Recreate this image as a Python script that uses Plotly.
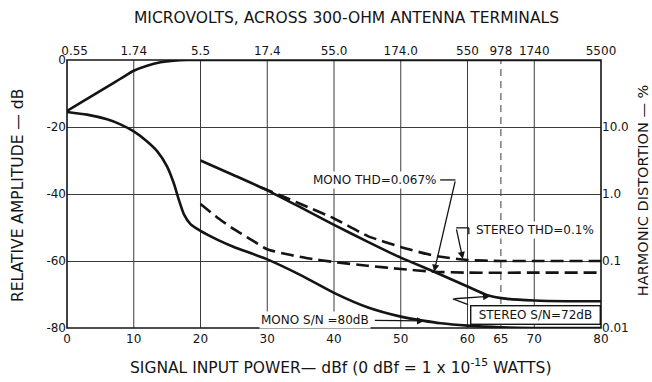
import plotly.graph_objects as go

# ---- Curve data (x = signal input power, dBf) ----
# Audio output level, dB
audio_x = [0, 2, 4, 6, 8, 10, 12, 14, 16, 18, 20, 30, 40, 50, 60, 70, 80]
audio_y = [-15.2, -12.8, -10.4, -8.0, -5.6, -3.2, -1.7, -0.7, -0.2, 0, 0, 0, 0, 0, 0, 0, 0]

# Mono noise level, dB  (S/N = 80 dB)
mono_sn_x = [0, 3, 6, 8, 10, 12, 13.5, 15, 16, 16.8, 17.5, 18.5, 20, 22.5, 25, 30,
             35, 40, 45, 50, 53.3, 56, 60, 65, 70, 80]
mono_sn_y = [-15.5, -16.3, -17.7, -19.2, -21.3, -24.3, -27.2, -31.8, -36.8, -42, -46,
             -49, -51, -53.6, -55.8, -59.5, -64.2, -69.5, -73.8, -76.6, -77.8, -78.6,
             -79.3, -79.8, -80, -80]

# Stereo noise level, dB  (S/N = 72 dB)
stereo_sn_x = [20, 25, 30, 35, 40, 45, 50, 55, 60, 63, 66, 70, 75, 80]
stereo_sn_y = [-30, -34.4, -38.9, -44, -49.2, -54.2, -59, -63.2, -67.6, -70.2, -71.3,
               -71.8, -72, -72]

# Stereo harmonic distortion, %  (THD = 0.1 %)
stereo_thd_x = [29, 32, 35, 40, 45, 50, 55, 60, 65, 70, 80]
stereo_thd_pct = [1.259, 0.955, 0.708, 0.4315, 0.237, 0.162, 0.120, 0.1035, 0.1, 0.1, 0.1]

# Mono harmonic distortion, %  (THD = 0.067 %)
mono_thd_x = [20, 22.5, 25, 27.5, 30, 33, 36, 40, 45, 50, 55, 60, 70, 80]
mono_thd_pct = [0.708, 0.447, 0.299, 0.211, 0.150, 0.126, 0.110, 0.0966, 0.0851,
                0.0759, 0.0692, 0.067, 0.067, 0.067]

# ---- Axis ticks ----
bottom_ticks = [0, 10, 20, 30, 40, 50, 60, 65, 70, 80]
bottom_labels = ["0", "10", "20", "30", "40", "50", "60", "65", "70", "80"]
top_ticks = [0, 10, 20, 30, 40, 50, 60, 65, 70, 80]
top_labels = ["\u00a0\u00a0\u00a0\u00a00.55", "1.74", "5.5", "17.4", "55.0", "174.0",
              "550", "978", "1740", "5500"]
left_ticks = [0, -20, -40, -60, -80]
left_labels = ["0", "-20", "-40", "-60", "-80"]
right_ticks = [0.01, 0.1, 1, 10]
right_labels = ["0.01", "0.1", "1.0", "10.0"]

grid_x = [10, 20, 30, 40, 50, 60, 70]
dashed_grid_x = [65]

FONT = "DejaVu Sans"
INK = "#141414"
GRID = "#3c3c3c"
CURVE_W = 2.6
DASH = "13px,6px"

fig = go.Figure()

# the audio curve is tied to the top (microvolt) axis, which shares the dBf scale
fig.add_trace(go.Scatter(x=audio_x, y=audio_y, mode="lines", xaxis="x2",
                         line=dict(color=INK, width=CURVE_W, shape="spline", smoothing=0.8),
                         hoverinfo="skip"))
fig.add_trace(go.Scatter(x=mono_sn_x, y=mono_sn_y, mode="lines",
                         line=dict(color=INK, width=CURVE_W, shape="spline", smoothing=0.6),
                         hoverinfo="skip"))
fig.add_trace(go.Scatter(x=stereo_sn_x, y=stereo_sn_y, mode="lines",
                         line=dict(color=INK, width=CURVE_W, shape="spline", smoothing=0.6),
                         hoverinfo="skip"))
fig.add_trace(go.Scatter(x=stereo_thd_x, y=stereo_thd_pct, mode="lines", yaxis="y2",
                         line=dict(color=INK, width=CURVE_W, dash=DASH, shape="spline",
                                   smoothing=0.6),
                         hoverinfo="skip"))
fig.add_trace(go.Scatter(x=mono_thd_x, y=mono_thd_pct, mode="lines", yaxis="y2",
                         line=dict(color=INK, width=CURVE_W, dash=DASH, shape="spline",
                                   smoothing=0.6),
                         hoverinfo="skip"))

shapes = []
for gx in grid_x:
    shapes.append(dict(type="line", xref="x", yref="paper", x0=gx, x1=gx, y0=0, y1=1,
                       line=dict(color=GRID, width=1), layer="below"))
for gx in dashed_grid_x:
    shapes.append(dict(type="line", xref="x", yref="paper", x0=gx, x1=gx, y0=0, y1=1,
                       line=dict(color=GRID, width=1, dash="7px,5px"), layer="below"))
# plot frame
shapes.append(dict(type="rect", xref="paper", yref="paper", x0=0, x1=1, y0=0, y1=1,
                   line=dict(color=INK, width=1.6)))
# leader segments for the callouts
leader = dict(color=INK, width=1.3)
shapes += [
    dict(type="line", xref="x", yref="y", x0=55.9, x1=58.2, y0=-35.8, y1=-35.8, line=leader),
    dict(type="line", xref="x", yref="y", x0=58.3, x1=60.2, y0=-50.1, y1=-50.1, line=leader),
    dict(type="line", xref="x", yref="y", x0=60.2, x1=60.2, y0=-50.1, y1=-52.0, line=leader),
    dict(type="line", xref="x", yref="y", x0=57.8, x1=60.1, y0=-71.3, y1=-73.0, line=leader),
]

lbl = dict(family=FONT, size=12, color=INK)
arrow = dict(xref="x", yref="y", axref="x", ayref="y", showarrow=True, arrowhead=2,
             arrowsize=1.1, arrowwidth=1.3, arrowcolor=INK)
title_kw = dict(xref="paper", yref="paper", showarrow=False, xanchor="center",
                yanchor="middle")
annotations = [
    # callout labels
    dict(text="MONO THD=0.067%", x=46.0, y=-35.8, xref="x", yref="y", showarrow=False,
         font=lbl, bgcolor="white", borderpad=1),
    dict(text="STEREO THD=0.1%", x=70.1, y=-50.7, xref="x", yref="y", showarrow=False,
         font=lbl, bgcolor="white", borderpad=1),
    dict(text="STEREO S/N=72dB", x=80, y=-73.0, xref="x", yref="y", xanchor="right",
         yanchor="top", showarrow=False, font=lbl, bgcolor="white", bordercolor=INK,
         borderwidth=1.4, borderpad=2, width=124, height=13),
    dict(text="MONO S/N =80dB", x=37.2, y=-77.6, xref="x", yref="y", showarrow=False,
         font=lbl, bgcolor="white", borderpad=1),
    # callout arrows
    dict(text="", x=55.0, y=-63.2, ax=58.2, ay=-35.8, **arrow),
    dict(text="", x=59.3, y=-59.4, ax=58.3, ay=-50.1, **arrow),
    dict(text="", x=63.4, y=-70.5, ax=57.8, ay=-71.3, **arrow),
    dict(text="", x=53.5, y=-77.9, ax=45.9, ay=-77.7, **arrow),
    # axis titles
    dict(text="MICROVOLTS, ACROSS 300-OHM ANTENNA TERMINALS", x=0.524, y=1.157,
         font=dict(family=FONT, size=15.5, color=INK), **title_kw),
    dict(text="SIGNAL INPUT POWER\u2014 dBf (0 dBf = 1 x 10<sup>-15</sup> WATTS)",
         x=0.513, y=-0.142, font=dict(family=FONT, size=15.5, color=INK), **title_kw),
    dict(text="RELATIVE AMPLITUDE \u2014 dB", x=-0.092, y=0.496, textangle=-90,
         font=dict(family=FONT, size=15.5, color=INK), **title_kw),
    dict(text="HARMONIC DISTORTION \u2014 %", x=1.079, y=0.515, textangle=-90,
         font=dict(family=FONT, size=14.5, color=INK), **title_kw),
]

tick_font = dict(family=FONT, size=12, color=INK)
fig.update_layout(
    width=652, height=382,
    margin=dict(l=67, r=51, t=60, b=54),
    paper_bgcolor="white", plot_bgcolor="white",
    showlegend=False,
    xaxis=dict(range=[0, 80], tickvals=bottom_ticks, ticktext=bottom_labels,
               showgrid=False, zeroline=False, ticks="", showline=False,
               tickfont=tick_font, ticklabelstandoff=2),
    xaxis2=dict(range=[0, 80], overlaying="x", side="top", anchor="y",
                tickvals=top_ticks, ticktext=top_labels, showgrid=False,
                zeroline=False, ticks="", showline=False, tickfont=tick_font,
                ticklabelstandoff=2),
    yaxis=dict(range=[-80, 0], tickvals=left_ticks, ticktext=left_labels,
               showgrid=True, gridcolor=GRID, gridwidth=1, zeroline=False,
               ticks="", showline=False, tickfont=tick_font),
    yaxis2=dict(type="log", range=[-2, 2], overlaying="y", side="right", anchor="x",
                tickvals=right_ticks, ticktext=right_labels, showgrid=False,
                zeroline=False, ticks="", showline=False, tickfont=tick_font),
    shapes=shapes,
    annotations=annotations,
)

fig.write_html("out.html")
